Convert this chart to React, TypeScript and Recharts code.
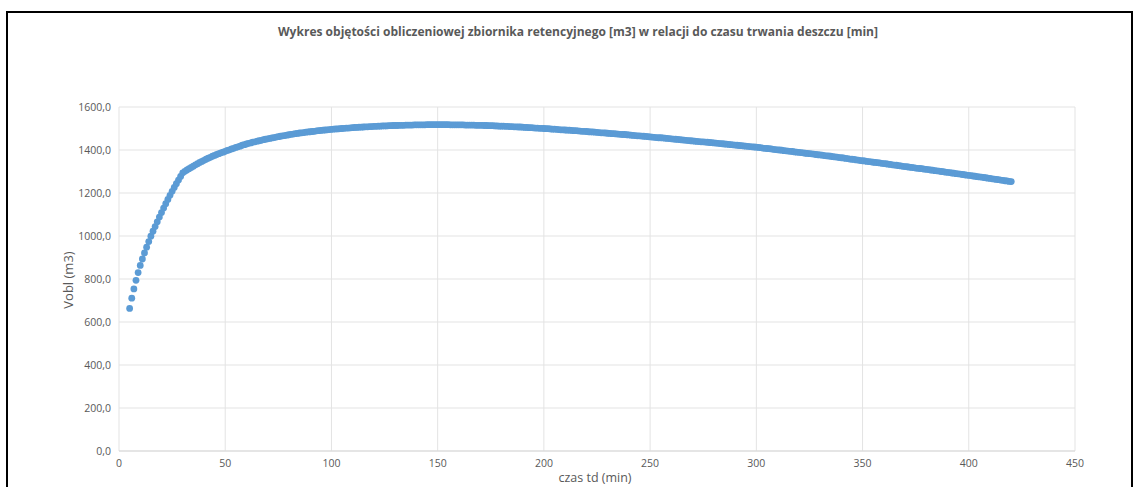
// Wykres objętości obliczeniowej zbiornika retencyjnego — scatter (Excel look)

import { ScatterChart, Scatter, XAxis, YAxis, CartesianGrid } from "recharts";

const tytul =
  "Wykres objętości obliczeniowej zbiornika retencyjnego [m3] w relacji do czasu trwania deszczu [min]";
const opisX = "czas td (min)";
const opisY = "Vobl (m3)";

const xTicks = [0, 50, 100, 150, 200, 250, 300, 350, 400, 450];
const yTicks = [0, 200, 400, 600, 800, 1000, 1200, 1400, 1600];

// czas trwania deszczu [min]
const czasTd = [
  5, 6, 7, 8, 9, 10, 11, 12, 13, 14,
  15, 16, 17, 18, 19, 20, 21, 22, 23, 24,
  25, 26, 27, 28, 29, 30, 31, 32, 33, 34,
  35, 36, 37, 38, 39, 40, 41, 42, 43, 44,
  45, 46, 47, 48, 49, 50, 51, 52, 53, 54,
  55, 56, 57, 58, 59, 60, 61, 62, 63, 64,
  65, 66, 67, 68, 69, 70, 71, 72, 73, 74,
  75, 76, 77, 78, 79, 80, 81, 82, 83, 84,
  85, 86, 87, 88, 89, 90, 91, 92, 93, 94,
  95, 96, 97, 98, 99, 100, 101, 102, 103, 104,
  105, 106, 107, 108, 109, 110, 111, 112, 113, 114,
  115, 116, 117, 118, 119, 120, 121, 122, 123, 124,
  125, 126, 127, 128, 129, 130, 131, 132, 133, 134,
  135, 136, 137, 138, 139, 140, 141, 142, 143, 144,
  145, 146, 147, 148, 149, 150, 151, 152, 153, 154,
  155, 156, 157, 158, 159, 160, 161, 162, 163, 164,
  165, 166, 167, 168, 169, 170, 171, 172, 173, 174,
  175, 176, 177, 178, 179, 180, 181, 182, 183, 184,
  185, 186, 187, 188, 189, 190, 191, 192, 193, 194,
  195, 196, 197, 198, 199, 200, 201, 202, 203, 204,
  205, 206, 207, 208, 209, 210, 211, 212, 213, 214,
  215, 216, 217, 218, 219, 220, 221, 222, 223, 224,
  225, 226, 227, 228, 229, 230, 231, 232, 233, 234,
  235, 236, 237, 238, 239, 240, 241, 242, 243, 244,
  245, 246, 247, 248, 249, 250, 251, 252, 253, 254,
  255, 256, 257, 258, 259, 260, 261, 262, 263, 264,
  265, 266, 267, 268, 269, 270, 271, 272, 273, 274,
  275, 276, 277, 278, 279, 280, 281, 282, 283, 284,
  285, 286, 287, 288, 289, 290, 291, 292, 293, 294,
  295, 296, 297, 298, 299, 300, 301, 302, 303, 304,
  305, 306, 307, 308, 309, 310, 311, 312, 313, 314,
  315, 316, 317, 318, 319, 320, 321, 322, 323, 324,
  325, 326, 327, 328, 329, 330, 331, 332, 333, 334,
  335, 336, 337, 338, 339, 340, 341, 342, 343, 344,
  345, 346, 347, 348, 349, 350, 351, 352, 353, 354,
  355, 356, 357, 358, 359, 360, 361, 362, 363, 364,
  365, 366, 367, 368, 369, 370, 371, 372, 373, 374,
  375, 376, 377, 378, 379, 380, 381, 382, 383, 384,
  385, 386, 387, 388, 389, 390, 391, 392, 393, 394,
  395, 396, 397, 398, 399, 400, 401, 402, 403, 404,
  405, 406, 407, 408, 409, 410, 411, 412, 413, 414,
  415, 416, 417, 418, 419, 420,
];

// objętość obliczeniowa [m3]
const vObl = [
  663, 711, 754, 794, 830, 863, 893, 921, 948, 974,
  999, 1022, 1044, 1066, 1088, 1109, 1130, 1150, 1170, 1189,
  1208, 1226, 1243, 1260, 1277, 1294, 1301, 1307, 1313, 1319,
  1325, 1331, 1336, 1342, 1347, 1352, 1357, 1362, 1366, 1371,
  1375, 1379, 1383, 1387, 1390, 1394, 1398, 1401, 1405, 1408,
  1412, 1415, 1418, 1422, 1425, 1428, 1431, 1433, 1436, 1438,
  1441, 1443, 1445, 1448, 1450, 1452, 1454, 1456, 1458, 1460,
  1462, 1464, 1466, 1467, 1469, 1471, 1473, 1474, 1476, 1477,
  1479, 1480, 1481, 1483, 1484, 1485, 1486, 1487, 1489, 1490,
  1491, 1492, 1493, 1494, 1495, 1496, 1497, 1498, 1498, 1499,
  1500, 1501, 1502, 1502, 1503, 1504, 1505, 1505, 1506, 1506,
  1507, 1508, 1508, 1509, 1509, 1510, 1510, 1511, 1511, 1512,
  1512, 1512, 1513, 1513, 1514, 1514, 1514, 1515, 1515, 1515,
  1516, 1516, 1516, 1516, 1517, 1517, 1517, 1517, 1517, 1517,
  1518, 1518, 1518, 1518, 1518, 1518, 1518, 1518, 1518, 1518,
  1518, 1517, 1517, 1517, 1517, 1517, 1517, 1517, 1516, 1516,
  1516, 1516, 1516, 1515, 1515, 1515, 1515, 1514, 1514, 1513,
  1513, 1513, 1512, 1512, 1511, 1511, 1511, 1510, 1510, 1509,
  1509, 1508, 1508, 1507, 1507, 1506, 1505, 1505, 1504, 1504,
  1503, 1502, 1502, 1501, 1501, 1500, 1499, 1499, 1498, 1497,
  1497, 1496, 1495, 1494, 1494, 1493, 1492, 1492, 1491, 1490,
  1490, 1489, 1488, 1487, 1487, 1486, 1485, 1484, 1484, 1483,
  1482, 1481, 1480, 1480, 1479, 1478, 1477, 1476, 1476, 1475,
  1474, 1473, 1472, 1472, 1471, 1470, 1469, 1468, 1467, 1466,
  1466, 1465, 1464, 1463, 1462, 1461, 1460, 1459, 1458, 1457,
  1457, 1456, 1455, 1454, 1453, 1452, 1451, 1450, 1449, 1448,
  1447, 1446, 1445, 1444, 1443, 1442, 1441, 1440, 1439, 1438,
  1438, 1437, 1436, 1435, 1434, 1433, 1432, 1431, 1430, 1429,
  1428, 1427, 1426, 1425, 1424, 1423, 1422, 1421, 1420, 1419,
  1418, 1417, 1416, 1415, 1414, 1413, 1412, 1411, 1409, 1408,
  1407, 1406, 1405, 1403, 1402, 1401, 1400, 1399, 1397, 1396,
  1395, 1394, 1393, 1391, 1390, 1389, 1388, 1387, 1385, 1384,
  1383, 1382, 1381, 1379, 1378, 1377, 1376, 1374, 1373, 1372,
  1371, 1369, 1368, 1367, 1365, 1364, 1363, 1361, 1360, 1358,
  1357, 1356, 1354, 1353, 1351, 1350, 1349, 1347, 1346, 1345,
  1343, 1342, 1341, 1340, 1338, 1337, 1336, 1334, 1333, 1331,
  1330, 1329, 1327, 1326, 1324, 1323, 1322, 1320, 1319, 1318,
  1316, 1315, 1314, 1313, 1311, 1310, 1309, 1307, 1306, 1304,
  1303, 1302, 1300, 1299, 1297, 1296, 1295, 1293, 1292, 1290,
  1289, 1288, 1286, 1285, 1283, 1282, 1281, 1279, 1278, 1276,
  1275, 1274, 1272, 1271, 1269, 1268, 1266, 1265, 1263, 1262,
  1260, 1259, 1257, 1256, 1254, 1253,
];

const punkty = czasTd.map((t, i) => ({ t, v: vObl[i] }));

const FONT = "'Open Sans', sans-serif";
const GREY_TEXT = "#595959";
const GRID = "#e3e3e3";

const Kropka = (props: any) => (
  <circle cx={props.cx} cy={props.cy} r={3.4} fill="#5b9bd5" />
);

export default function App() {
  return (
    <div
      style={{
        position: "fixed",
        left: 0,
        top: 0,
        width: 1134,
        height: 487,
        background: "#fff",
        overflow: "hidden",
      }}
    >
      <div
        style={{
          position: "absolute",
          left: 6,
          top: 11,
          width: 1127,
          height: 600,
          border: "2px solid #000",
          boxSizing: "border-box",
        }}
      />
      <div style={{ position: "absolute", left: 0, top: 0 }}>
        <ScatterChart
          width={1134}
          height={487}
          margin={{ top: 107, right: 59, bottom: 6, left: 0 }}
        >
          <CartesianGrid stroke={GRID} strokeWidth={1} />
          <XAxis
            type="number"
            dataKey="t"
            domain={[0, 450]}
            ticks={xTicks}
            interval={0}
            height={30}
            tickLine={false}
            tickMargin={3}
            axisLine={{ stroke: "#d9d9d9" }}
            tick={{ fontSize: 10.5, fill: GREY_TEXT, fontFamily: FONT }}
          />
          <YAxis
            type="number"
            dataKey="v"
            domain={[0, 1600]}
            ticks={yTicks}
            interval={0}
            width={119}
            tickLine={false}
            axisLine={false}
            tick={{ fontSize: 10.5, fill: GREY_TEXT, fontFamily: FONT }}
            tickFormatter={(v: number) => v.toFixed(1).replace(".", ",")}
          />
          <Scatter
            data={punkty}
            shape={Kropka}
            isAnimationActive={false}
          />
        </ScatterChart>
      </div>
      <svg
        width={1134}
        height={487}
        style={{ position: "absolute", left: 0, top: 0, pointerEvents: "none" }}
      >
        <text
          x={578}
          y={36}
          textAnchor="middle"
          fontFamily={FONT}
          fontSize={12.5}
          fontWeight="bold"
          fill={GREY_TEXT}
          textLength={600}
          lengthAdjust="spacingAndGlyphs"
        >
          {tytul}
        </text>
        <text
          x={595}
          y={482}
          textAnchor="middle"
          fontFamily={FONT}
          fontSize={12.5}
          fill={GREY_TEXT}
        >
          {opisX}
        </text>
        <text
          x={0}
          y={0}
          transform="translate(73 280) rotate(-90)"
          textAnchor="middle"
          fontFamily={FONT}
          fontSize={13}
          fill={GREY_TEXT}
        >
          {opisY}
        </text>
      </svg>
    </div>
  );
}
